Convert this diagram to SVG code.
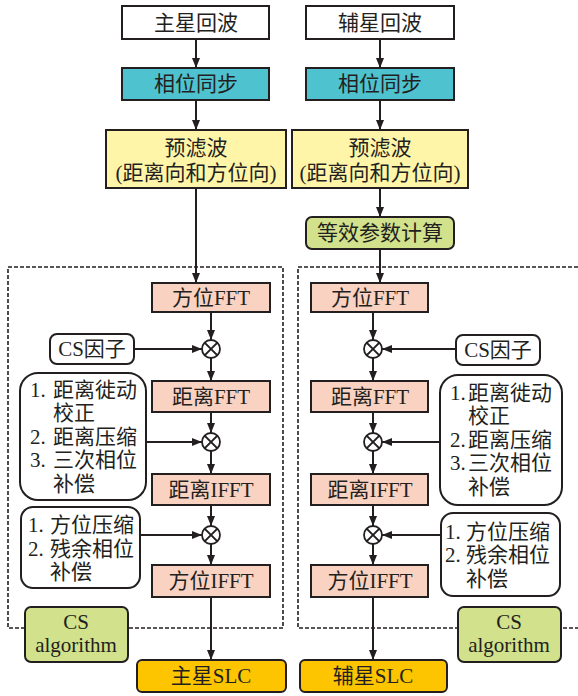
<svg xmlns="http://www.w3.org/2000/svg" width="578" height="696" viewBox="0 0 578 696">
<defs>
<marker id="ah" markerUnits="userSpaceOnUse" markerWidth="11" markerHeight="9" refX="10" refY="4" orient="auto">
<path d="M0,0 L10,4 L0,8 z" fill="#231f20"/>
</marker>
<style>
.t{font-family:"Liberation Serif","Noto Sans CJK SC",serif;font-size:21px;fill:#231f20;}
.c{text-anchor:middle;}
.b{stroke:#231f20;stroke-width:2;}
.w{fill:#ffffff;}
.teal{fill:#4ec2cf;}
.yel{fill:#fff5a8;}
.sal{fill:#f9d2c1;}
.grn{fill:#d2e18b;}
.org{fill:#fdc500;}
.ln{stroke:#231f20;stroke-width:2;fill:none;marker-end:url(#ah);}
.dash{stroke:#231f20;stroke-width:1.6;fill:none;stroke-dasharray:4 2;}
.x{stroke:#231f20;stroke-width:1.8;fill:#ffffff;}
</style>
</defs>
<rect fill="#ffffff" width="578" height="696"/>
<g id="frames">
<rect class="dash" x="8" y="267" width="275" height="361"/>
<path class="dash" d="M590,267 H298 V628 H590"/>
</g>
<g id="connectors">
<line class="ln" x1="196" y1="39" x2="196" y2="68"/>
<line class="ln" x1="196" y1="100" x2="196" y2="130"/>
<line class="ln" x1="196" y1="188" x2="196" y2="283"/>
<line class="ln" x1="211" y1="312" x2="211" y2="340"/>
<line class="ln" x1="134" y1="349" x2="202" y2="349"/>
<line class="ln" x1="211" y1="358" x2="211" y2="381"/>
<line class="ln" x1="211" y1="412" x2="211" y2="433"/>
<line class="ln" x1="146" y1="442" x2="202" y2="442"/>
<line class="ln" x1="211" y1="451" x2="211" y2="474"/>
<line class="ln" x1="211" y1="505" x2="211" y2="526"/>
<line class="ln" x1="140" y1="535" x2="202" y2="535"/>
<line class="ln" x1="211" y1="544" x2="211" y2="565"/>
<line class="ln" x1="211" y1="597" x2="211" y2="660"/>
<line class="ln" x1="380" y1="39" x2="380" y2="68"/>
<line class="ln" x1="380" y1="100" x2="380" y2="130"/>
<line class="ln" x1="380" y1="188" x2="380" y2="217"/>
<line class="ln" x1="380" y1="249" x2="380" y2="283"/>
<line class="ln" x1="373" y1="312" x2="373" y2="340"/>
<line class="ln" x1="456" y1="349" x2="382" y2="349"/>
<line class="ln" x1="373" y1="358" x2="373" y2="381"/>
<line class="ln" x1="373" y1="412" x2="373" y2="433"/>
<line class="ln" x1="440" y1="442" x2="382" y2="442"/>
<line class="ln" x1="373" y1="451" x2="373" y2="474"/>
<line class="ln" x1="373" y1="505" x2="373" y2="526"/>
<line class="ln" x1="441" y1="535" x2="382" y2="535"/>
<line class="ln" x1="373" y1="544" x2="373" y2="565"/>
<line class="ln" x1="373" y1="597" x2="373" y2="660"/>
</g>
<!-- left column -->
<g id="master-echo"><rect class="b w" x="122" y="6" width="147" height="33"/><text class="t c" x="196" y="30">主星回波</text></g>
<g id="master-sync"><rect class="b teal" x="122" y="68" width="147" height="32"/><text class="t c" x="196" y="91">相位同步</text></g>
<g id="master-prefilter"><rect class="b yel" x="106" y="130" width="180" height="58"/><text class="t c" x="196" y="155">预滤波</text><text class="t c" x="196" y="180">(距离向和方位向)</text></g>
<g id="m-azfft"><rect class="b sal" x="152" y="283" width="118" height="29"/><text class="t c" x="211" y="305">方位FFT</text></g>
<g id="m-mul1"><circle class="x" cx="211" cy="349" r="9"/><path class="b" d="M204.6,342.6 L217.4,355.4 M217.4,342.6 L204.6,355.4"/></g>
<g id="m-csfactor"><rect class="b w" x="50" y="334" width="84" height="30" rx="7"/><text class="t c" x="92" y="356">CS因子</text></g>
<g id="m-rgfft"><rect class="b sal" x="152" y="381" width="118" height="31"/><text class="t c" x="211" y="404">距离FFT</text></g>
<g id="m-mul2"><circle class="x" cx="211" cy="442" r="9"/><path class="b" d="M204.6,435.6 L217.4,448.4 M217.4,435.6 L204.6,448.4"/></g>
<g id="m-rgops"><rect class="b w" x="20" y="373" width="126" height="127" rx="18"/>
<text class="t" x="30" y="397">1.</text><text class="t" x="53" y="397">距离徙动</text>
<text class="t" x="53" y="420">校正</text>
<text class="t" x="30" y="444">2.</text><text class="t" x="53" y="444">距离压缩</text>
<text class="t" x="30" y="467">3.</text><text class="t" x="53" y="467">三次相位</text>
<text class="t" x="53" y="491">补偿</text></g>
<g id="m-rgifft"><rect class="b sal" x="152" y="474" width="118" height="31"/><text class="t c" x="211" y="497">距离IFFT</text></g>
<g id="m-mul3"><circle class="x" cx="211" cy="535" r="9"/><path class="b" d="M204.6,528.6 L217.4,541.4 M217.4,528.6 L204.6,541.4"/></g>
<g id="m-azops"><rect class="b w" x="21" y="507" width="119" height="81" rx="12"/>
<text class="t" x="28" y="532">1.</text><text class="t" x="50" y="532">方位压缩</text>
<text class="t" x="28" y="556">2.</text><text class="t" x="50" y="556">残余相位</text>
<text class="t" x="50" y="579">补偿</text></g>
<g id="m-azifft"><rect class="b sal" x="152" y="565" width="118" height="32"/><text class="t c" x="211" y="588">方位IFFT</text></g>
<g id="m-csalg"><rect class="b grn" x="25" y="607" width="103" height="55" rx="6"/><text class="t c" x="76" y="629">CS</text><text class="t c" x="76" y="652">algorithm</text></g>
<g id="master-slc"><rect class="b org" x="137" y="660" width="149" height="32" rx="5"/><text class="t c" x="211" y="683">主星SLC</text></g>
<!-- right column -->
<g id="slave-echo"><rect class="b w" x="306" y="6" width="148" height="33"/><text class="t c" x="380" y="30">辅星回波</text></g>
<g id="slave-sync"><rect class="b teal" x="306" y="68" width="148" height="32"/><text class="t c" x="380" y="91">相位同步</text></g>
<g id="slave-prefilter"><rect class="b yel" x="292" y="130" width="176" height="58"/><text class="t c" x="380" y="155">预滤波</text><text class="t c" x="380" y="180">(距离向和方位向)</text></g>
<g id="slave-param"><rect class="b grn" x="306" y="217" width="148" height="32" rx="6"/><text class="t c" x="380" y="240">等效参数计算</text></g>
<g id="s-azfft"><rect class="b sal" x="311" y="283" width="117" height="29"/><text class="t c" x="370" y="305">方位FFT</text></g>
<g id="s-mul1"><circle class="x" cx="373" cy="349" r="9"/><path class="b" d="M366.6,342.6 L379.4,355.4 M379.4,342.6 L366.6,355.4"/></g>
<g id="s-csfactor"><rect class="b w" x="456" y="335" width="84" height="30" rx="7"/><text class="t c" x="498" y="357">CS因子</text></g>
<g id="s-rgfft"><rect class="b sal" x="311" y="381" width="117" height="31"/><text class="t c" x="370" y="404">距离FFT</text></g>
<g id="s-mul2"><circle class="x" cx="373" cy="442" r="9"/><path class="b" d="M366.6,435.6 L379.4,448.4 M379.4,435.6 L366.6,448.4"/></g>
<g id="s-rgops"><rect class="b w" x="440" y="375" width="122" height="130" rx="18"/>
<text class="t" x="450" y="400">1.</text><text class="t" x="468" y="400">距离徙动</text>
<text class="t" x="468" y="423">校正</text>
<text class="t" x="450" y="447">2.</text><text class="t" x="468" y="447">距离压缩</text>
<text class="t" x="450" y="470">3.</text><text class="t" x="468" y="470">三次相位</text>
<text class="t" x="468" y="494">补偿</text></g>
<g id="s-rgifft"><rect class="b sal" x="311" y="474" width="117" height="31"/><text class="t c" x="370" y="497">距离IFFT</text></g>
<g id="s-mul3"><circle class="x" cx="373" cy="535" r="9"/><path class="b" d="M366.6,528.6 L379.4,541.4 M379.4,528.6 L366.6,541.4"/></g>
<g id="s-azops"><rect class="b w" x="441" y="513" width="119" height="83" rx="12"/>
<text class="t" x="445" y="539">1.</text><text class="t" x="466" y="539">方位压缩</text>
<text class="t" x="445" y="562">2.</text><text class="t" x="466" y="562">残余相位</text>
<text class="t" x="466" y="586">补偿</text></g>
<g id="s-azifft"><rect class="b sal" x="311" y="565" width="117" height="32"/><text class="t c" x="370" y="588">方位IFFT</text></g>
<g id="s-csalg"><rect class="b grn" x="458" y="607" width="103" height="55" rx="6"/><text class="t c" x="509" y="629">CS</text><text class="t c" x="509" y="652">algorithm</text></g>
<g id="slave-slc"><rect class="b org" x="300" y="660" width="147" height="32" rx="5"/><text class="t c" x="373" y="683">辅星SLC</text></g>
</svg>
